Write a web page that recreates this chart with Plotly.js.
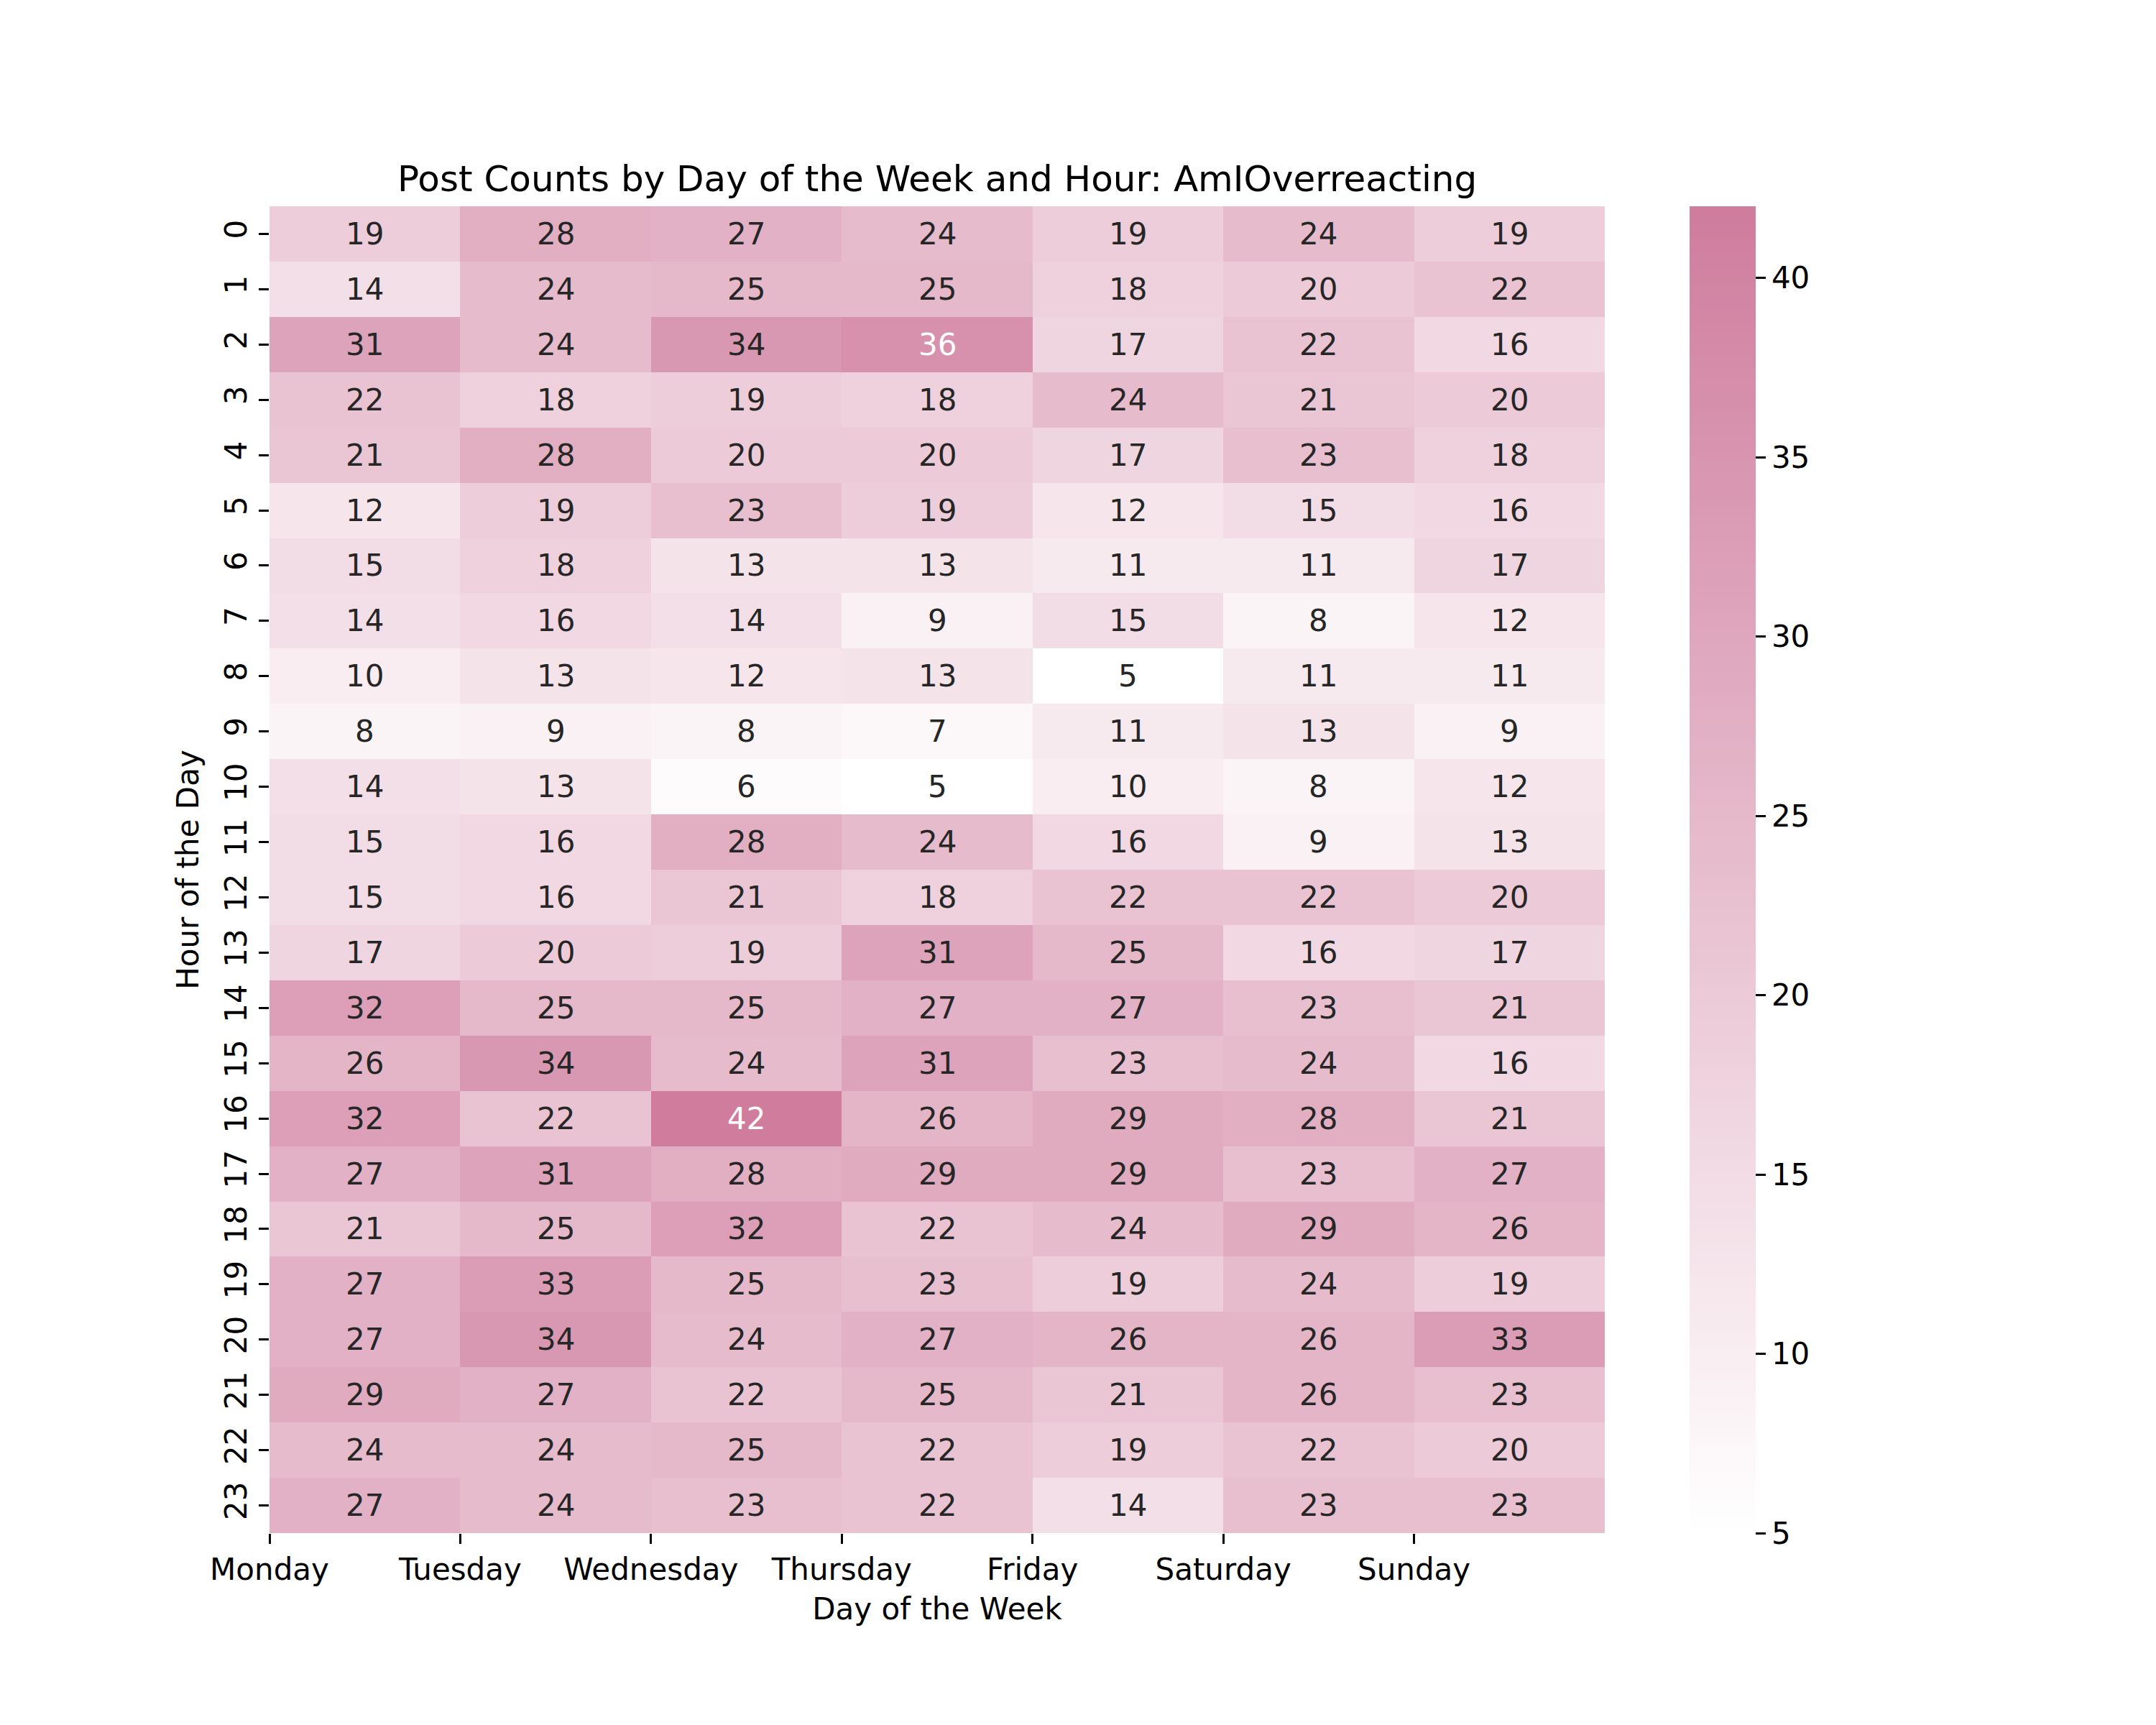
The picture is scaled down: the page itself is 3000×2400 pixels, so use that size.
<!DOCTYPE html>
<html>
<head>
<meta charset="utf-8">
<script src="https://cdn.plot.ly/plotly-3.0.1.min.js"></script>
<style>html,body{margin:0;padding:0;background:#fff;}</style>
</head>
<body>
<div id="chart" style="width:3000px;height:2400px;"></div>
<script>
const days = ["Monday","Tuesday","Wednesday","Thursday","Friday","Saturday","Sunday"];
const hours = [0,1,2,3,4,5,6,7,8,9,10,11,12,13,14,15,16,17,18,19,20,21,22,23];
const counts = [
  [19,28,27,24,19,24,19],
  [14,24,25,25,18,20,22],
  [31,24,34,36,17,22,16],
  [22,18,19,18,24,21,20],
  [21,28,20,20,17,23,18],
  [12,19,23,19,12,15,16],
  [15,18,13,13,11,11,17],
  [14,16,14,9,15,8,12],
  [10,13,12,13,5,11,11],
  [8,9,8,7,11,13,9],
  [14,13,6,5,10,8,12],
  [15,16,28,24,16,9,13],
  [15,16,21,18,22,22,20],
  [17,20,19,31,25,16,17],
  [32,25,25,27,27,23,21],
  [26,34,24,31,23,24,16],
  [32,22,42,26,29,28,21],
  [27,31,28,29,29,23,27],
  [21,25,32,22,24,29,26],
  [27,33,25,23,19,24,19],
  [27,34,24,27,26,26,33],
  [29,27,22,25,21,26,23],
  [24,24,25,22,19,22,20],
  [27,24,23,22,14,23,23]
];
const cbTicks = [5,10,15,20,25,30,35,40];

const dayIdx = days.map((d,i)=>i);
const flat = counts.flat();
const zmin = Math.min(...flat), zmax = Math.max(...flat);

const annotations = [];
counts.forEach((row,r)=>{
  row.forEach((v,c)=>{
    annotations.push({
      x: dayIdx[c], y: hours[r], xref:'x', yref:'y', text: String(v), showarrow:false,
      font:{family:'DejaVu Sans', size:42, color: v > 35 ? '#ffffff' : '#262626'}
    });
  });
});

const trace = {
  type:'heatmap',
  x: dayIdx, y: hours, z: counts,
  zmin: zmin, zmax: zmax,
  colorscale: [[0,'rgb(255,255,255)'],[1,'rgb(207,124,157)']],
  showscale: true,
  hoverinfo:'skip',
  colorbar:{
    x: 1.0635, xanchor:'left', y:0.5, yanchor:'middle', len:1, lenmode:'fraction',
    thickness: 92, thicknessmode:'pixels', outlinewidth:0, xpad:0, ypad:0,
    tickvals: cbTicks, ticks:'outside', ticklen:14, tickwidth:3, tickcolor:'#000',
    tickfont:{family:'DejaVu Sans', size:42, color:'#000'}
  }
};

const layout = {
  width:3000, height:2400,
  margin:{l:375, r:767, t:287, b:267, pad:0},
  paper_bgcolor:'#fff', plot_bgcolor:'#fff',
  font:{family:'DejaVu Sans', color:'#000'},
  title:{text:'Post Counts by Day of the Week and Hour: AmIOverreacting', x:0.4347, xanchor:'center', y:0.8890, yanchor:'bottom', font:{family:'DejaVu Sans', size:50, color:'#000'}},
  xaxis:{
    range:[-0.5, 6.5], tickvals: dayIdx.map(i=>i-0.5), ticktext: days,
    ticks:'outside', ticklen:14, tickwidth:3, tickcolor:'#000',
    showgrid:false, zeroline:false, showline:false,
    tickfont:{family:'DejaVu Sans', size:42, color:'#000'},
    title:{text:'Day of the Week', font:{family:'DejaVu Sans', size:42, color:'#000'}, standoff:16}
  },
  yaxis:{
    autorange:'reversed', tickvals: hours, ticktext: hours.map(String),
    ticks:'outside', ticklen:14, tickwidth:3, tickcolor:'#000', tickangle:-90,
    showgrid:false, zeroline:false, showline:false,
    tickfont:{family:'DejaVu Sans', size:42, color:'#000'},
    title:{text:'Hour of the Day', font:{family:'DejaVu Sans', size:42, color:'#000'}, standoff:14}
  },
  annotations: annotations
};

Plotly.newPlot('chart',[trace],layout,{staticPlot:true, displayModeBar:false});
</script>
</body>
</html>
